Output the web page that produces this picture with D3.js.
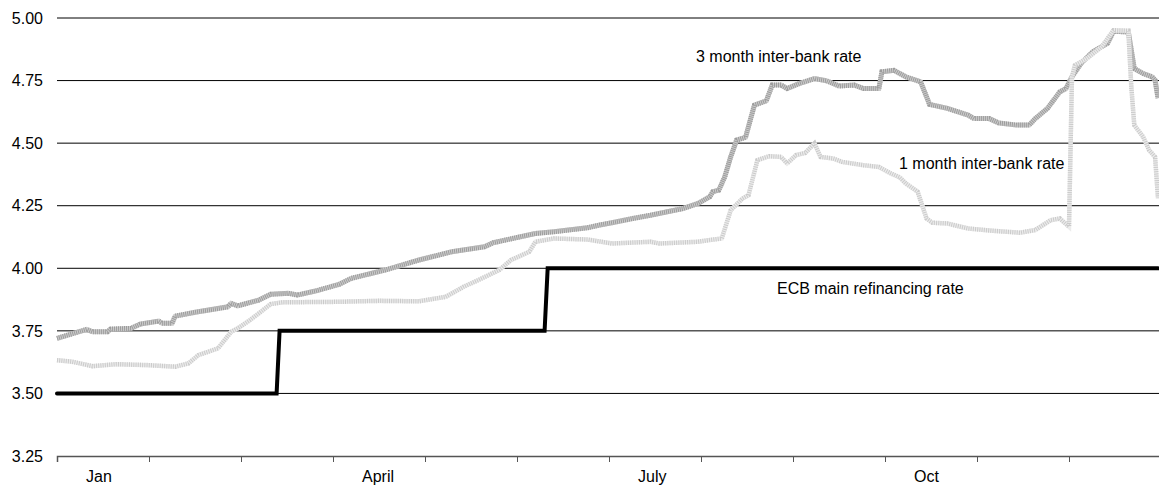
<!DOCTYPE html>
<html>
<head>
<meta charset="utf-8">
<script src="https://cdn.jsdelivr.net/npm/d3@7"></script>
<style>
  body { margin: 0; background: #fff; }
  svg { display: block; font-family: "Liberation Sans", Arial, sans-serif; }
</style>
</head>
<body>
<div id="chart"></div>
<script>
const monthDays = [31, 28, 31, 30, 31, 30, 31, 31, 30, 31, 30, 31];
const quarterLabels = ['Jan', 'April', 'July', 'Oct'];
const quarterMonths = [0, 3, 6, 9];
const yTicks = [3.25, 3.50, 3.75, 4.00, 4.25, 4.50, 4.75, 5.00];

// ECB main refinancing rate (2007)
const ecbDates = ['2007-01-01', '2007-03-13', '2007-03-14', '2007-06-10', '2007-06-11', '2007-12-31'];
const ecbRates = [3.50, 3.50, 3.75, 3.75, 4.00, 4.00];

// 3 month inter-bank rate
const m3Dates = [
  '2007-01-01', '2007-01-11', '2007-01-13', '2007-01-18', '2007-01-19', '2007-01-26', '2007-01-29',
  '2007-02-04', '2007-02-05', '2007-02-08', '2007-02-09', '2007-02-15', '2007-02-25', '2007-02-26', '2007-02-28',
  '2007-03-07', '2007-03-11', '2007-03-17', '2007-03-20', '2007-03-26',
  '2007-04-03', '2007-04-07', '2007-04-18', '2007-04-29',
  '2007-05-10', '2007-05-21', '2007-05-24',
  '2007-06-01', '2007-06-07', '2007-06-13', '2007-06-24', '2007-06-28',
  '2007-07-02', '2007-07-09', '2007-07-15', '2007-07-26', '2007-07-31',
  '2007-08-04', '2007-08-05', '2007-08-07', '2007-08-09', '2007-08-11', '2007-08-13', '2007-08-16',
  '2007-08-19', '2007-08-23', '2007-08-25', '2007-08-28', '2007-08-30',
  '2007-09-03', '2007-09-08', '2007-09-12', '2007-09-16', '2007-09-21', '2007-09-24', '2007-09-29', '2007-09-30',
  '2007-10-04', '2007-10-08', '2007-10-13', '2007-10-16', '2007-10-22', '2007-10-29', '2007-10-31',
  '2007-11-05', '2007-11-08', '2007-11-14', '2007-11-18', '2007-11-20', '2007-11-24', '2007-11-28', '2007-11-30',
  '2007-12-02', '2007-12-05', '2007-12-09', '2007-12-14', '2007-12-16', '2007-12-21', '2007-12-23',
  '2007-12-26', '2007-12-29', '2007-12-30', '2007-12-31'
];
const m3Rates = [
  3.720, 3.756, 3.746, 3.746, 3.757, 3.760, 3.777,
  3.789, 3.780, 3.780, 3.809, 3.824, 3.846, 3.860, 3.850,
  3.873, 3.896, 3.900, 3.893, 3.909,
  3.936, 3.960, 3.993, 4.033,
  4.066, 4.086, 4.102,
  4.123, 4.139, 4.146, 4.162, 4.173,
  4.182, 4.199, 4.212, 4.239, 4.259,
  4.286, 4.306, 4.312, 4.365, 4.445, 4.512, 4.523,
  4.652, 4.669, 4.732, 4.732, 4.718,
  4.738, 4.758, 4.749, 4.728, 4.732, 4.718, 4.718, 4.785,
  4.791, 4.765, 4.745, 4.655, 4.639, 4.612, 4.598,
  4.598, 4.581, 4.572, 4.572, 4.598, 4.639, 4.705, 4.718,
  4.765, 4.818, 4.865, 4.899, 4.947, 4.944, 4.798,
  4.778, 4.765, 4.752, 4.680
];

// 1 month inter-bank rate
const m1Dates = [
  '2007-01-01', '2007-01-06', '2007-01-13', '2007-01-21',
  '2007-02-01', '2007-02-09', '2007-02-13', '2007-02-16', '2007-02-22', '2007-02-26', '2007-02-28',
  '2007-03-04', '2007-03-07', '2007-03-11', '2007-03-15',
  '2007-04-03', '2007-04-16', '2007-04-29',
  '2007-05-08', '2007-05-14', '2007-05-19', '2007-05-26', '2007-05-30',
  '2007-06-05', '2007-06-07', '2007-06-13', '2007-06-24',
  '2007-07-02', '2007-07-15', '2007-07-18', '2007-07-31',
  '2007-08-04', '2007-08-08', '2007-08-11', '2007-08-15', '2007-08-17', '2007-08-20', '2007-08-24', '2007-08-28', '2007-08-30',
  '2007-09-02', '2007-09-05', '2007-09-08', '2007-09-10', '2007-09-14', '2007-09-17', '2007-09-24', '2007-09-29',
  '2007-10-03', '2007-10-06', '2007-10-08', '2007-10-12', '2007-10-15', '2007-10-17', '2007-10-22', '2007-10-29',
  '2007-11-06', '2007-11-15', '2007-11-20', '2007-11-25', '2007-11-28',
  '2007-12-01', '2007-12-02', '2007-12-03', '2007-12-07', '2007-12-12', '2007-12-16', '2007-12-21',
  '2007-12-22', '2007-12-23', '2007-12-26', '2007-12-28', '2007-12-30', '2007-12-31'
];
const m1Rates = [
  3.633, 3.627, 3.609, 3.617,
  3.613, 3.607, 3.620, 3.653, 3.680, 3.746, 3.760,
  3.793, 3.820, 3.857, 3.864,
  3.866, 3.870, 3.868,
  3.886, 3.926, 3.953, 3.993, 4.033,
  4.066, 4.106, 4.119, 4.115,
  4.099, 4.106, 4.099, 4.106,
  4.113, 4.119, 4.232, 4.279, 4.292, 4.432, 4.448, 4.445, 4.419,
  4.452, 4.461, 4.499, 4.445, 4.439, 4.425, 4.412, 4.405,
  4.379, 4.363, 4.339, 4.306, 4.199, 4.182, 4.179, 4.159,
  4.150, 4.142, 4.153, 4.192, 4.199,
  4.166, 4.765, 4.811, 4.838, 4.885, 4.951, 4.949,
  4.725, 4.572, 4.525, 4.472, 4.445, 4.280
];

const width = 1159;
const height = 486;

// month-based position: each month gets the same width on the axis
function monthPos(s) {
  const parts = s.split('-');
  const m = +parts[1] - 1;
  const d = +parts[2];
  return m + (d - 1) / monthDays[m];
}

const x = d3.scaleLinear().domain([0, 12]).range([57, 1161]);
const y = d3.scaleLinear().domain([3.25, 5.00]).range([456, 18]);

const svg = d3.select('#chart').append('svg')
  .attr('width', width)
  .attr('height', height);

// gridlines
svg.append('g')
  .selectAll('line')
  .data(yTicks.slice(1))
  .enter()
  .append('line')
  .attr('x1', x(0))
  .attr('x2', width)
  .attr('y1', d => y(d))
  .attr('y2', d => y(d))
  .attr('stroke', '#000')
  .attr('stroke-width', 1);

// y labels
svg.append('g')
  .selectAll('text')
  .data(yTicks)
  .enter()
  .append('text')
  .attr('x', 43)
  .attr('y', d => y(d))
  .attr('dy', '0.36em')
  .attr('text-anchor', 'end')
  .attr('font-size', '16px')
  .attr('fill', '#000')
  .text(d => d.toFixed(2));

// bottom axis
const xAxis = d3.axisBottom(x)
  .tickValues(d3.range(0, 12))
  .tickSize(6)
  .tickFormat('');

const axisG = svg.append('g')
  .attr('transform', `translate(0,${y(3.25)})`)
  .call(xAxis);
axisG.select('.domain').attr('stroke', '#555').attr('stroke-width', 1.5);
axisG.selectAll('.tick line').attr('stroke', '#555');

svg.append('g')
  .selectAll('text')
  .data(quarterLabels)
  .enter()
  .append('text')
  .attr('x', (d, i) => x(quarterMonths[i]) + 29)
  .attr('y', 482)
  .attr('font-size', '16px')
  .attr('fill', '#000')
  .text(d => d);

const line = d3.line()
  .x(d => x(monthPos(d[0])))
  .y(d => y(d[1]));

const m3 = d3.zip(m3Dates, m3Rates);
const m1 = d3.zip(m1Dates, m1Rates);
const ecb = d3.zip(ecbDates, ecbRates);

// 3 month rate: striped mid grey
svg.append('path')
  .datum(m3)
  .attr('d', line)
  .attr('fill', 'none')
  .attr('stroke', '#cccccc')
  .attr('stroke-width', 5);
svg.append('path')
  .datum(m3)
  .attr('d', line)
  .attr('fill', 'none')
  .attr('stroke', '#9c9c9c')
  .attr('stroke-width', 5)
  .attr('stroke-dasharray', '1,1');

// 1 month rate: dotted light grey
svg.append('path')
  .datum(m1)
  .attr('d', line)
  .attr('fill', 'none')
  .attr('stroke', '#ececec')
  .attr('stroke-width', 4.5);
svg.append('path')
  .datum(m1)
  .attr('d', line)
  .attr('fill', 'none')
  .attr('stroke', '#cacaca')
  .attr('stroke-width', 4.5)
  .attr('stroke-dasharray', '1,1.2');

// ECB rate
svg.append('path')
  .datum(ecb)
  .attr('d', line)
  .attr('fill', 'none')
  .attr('stroke', '#000')
  .attr('stroke-width', 4)
  .attr('stroke-linecap', 'round');

// series labels
svg.append('text')
  .attr('x', 696)
  .attr('y', 62)
  .attr('font-size', '16px')
  .text('3 month inter-bank rate');

svg.append('text')
  .attr('x', 899)
  .attr('y', 169)
  .attr('font-size', '16px')
  .text('1 month inter-bank rate');

svg.append('text')
  .attr('x', 777)
  .attr('y', 294)
  .attr('font-size', '16px')
  .text('ECB main refinancing rate');
</script>
</body>
</html>
